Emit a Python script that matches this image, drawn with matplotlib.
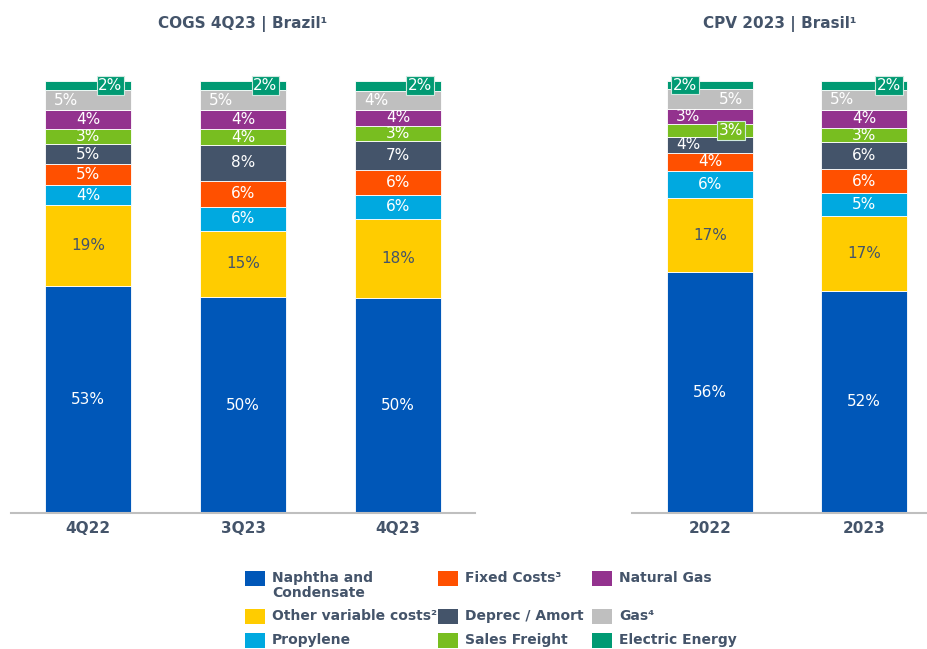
import numpy as np
import matplotlib
matplotlib.use("Agg")
import matplotlib.pyplot as plt
from matplotlib.patches import Rectangle

# ── Data ───────────────────────────────────────────────────────────
series = ["Naphtha and\nCondensate", "Other variable costs²", "Propylene",
          "Fixed Costs³", "Deprec / Amort", "Sales Freight",
          "Natural Gas", "Gas⁴", "Electric Energy"]
colors = ["#0057B8", "#FFCC00", "#00A9E0", "#FF5000", "#44546A",
          "#78BE20", "#93328E", "#BFBFBF", "#009A73"]

quarters = ["4Q22", "3Q23", "4Q23"]
years = ["2022", "2023"]

# share of COGS per segment, bottom to top (as drawn)
q_values = [
    [52.5, 18.8, 4.6, 4.9, 4.6, 3.4, 4.4, 4.7, 2.1],   # 4Q22
    [50.0, 15.3, 5.6, 6.0, 8.3, 3.6, 4.4, 4.7, 2.1],   # 3Q23
    [49.8, 18.3, 5.6, 5.8, 6.6, 3.4, 3.9, 4.4, 2.2],   # 4Q23
]
q_labels = [
    [53, 19, 4, 5, 5, 3, 4, 5, 2],
    [50, 15, 6, 6, 8, 4, 4, 5, 2],
    [50, 18, 6, 6, 7, 3, 4, 4, 2],
]
y_values = [
    [55.8, 17.1, 6.3, 4.2, 3.7, 3.0, 3.4, 4.6, 1.9],   # 2022
    [51.5, 17.2, 5.3, 5.6, 6.2, 3.4, 4.2, 4.6, 2.0],   # 2023
]
y_labels = [
    [56, 17, 6, 4, 4, 3, 3, 5, 2],
    [52, 17, 5, 6, 6, 3, 4, 5, 2],
]

TXT = "#44546A"
plt.rcParams["font.family"] = "DejaVu Sans"

W, H = 928, 649
fig = plt.figure(figsize=(W / 100, H / 100), dpi=100)


def px_axes(x0, x1, y0, y1):
    return fig.add_axes([x0 / W, 1 - y1 / H, (x1 - x0) / W, (y1 - y0) / H])


def draw_panel(ax, cats, values, labels, title, xlim, width, offsets):
    x = np.arange(len(cats))
    for i in range(len(cats)):
        bottom = 0
        for j, v in enumerate(values[i]):
            ax.bar(x[i], v, width, bottom=bottom, color=colors[j],
                   edgecolor="white", linewidth=0.6)
            dx, boxed = offsets.get((i, j), (0, False))
            tc = TXT if j == 1 else "white"
            bbox = None
            if boxed:
                bbox = dict(boxstyle="square,pad=0.12", fc=colors[j],
                            ec="#CFE8DF", lw=0.8)
            ax.text(x[i] + dx, bottom + v / 2, f"{labels[i][j]}%",
                    ha="center", va="center", color=tc, fontsize=11,
                    bbox=bbox, zorder=5, clip_on=False)
            bottom += v
    ax.set_xlim(*xlim)
    ax.set_ylim(0, 100)
    ax.set_xticks(x)
    ax.set_xticklabels(cats, fontsize=11, fontweight="bold", color=TXT)
    ax.tick_params(axis="x", length=0, pad=6)
    ax.set_yticks([])
    for s in ["top", "right", "left"]:
        ax.spines[s].set_visible(False)
    ax.spines["bottom"].set_color("#BFBFBF")
    ax.spines["bottom"].set_linewidth(1.5)
    ax.set_title(title, fontsize=11, fontweight="bold", color=TXT, pad=0,
                 y=(513 - 28) / 432)


# label placement tweaks: (bar, segment) -> (x offset, boxed)
left_off = {}
for i in range(3):
    left_off[(i, 8)] = (0.145, True)
    left_off[(i, 7)] = (-0.14, False)
right_off = {
    (0, 8): (-0.16, True), (0, 7): (0.14, False), (0, 6): (-0.14, False),
    (0, 5): (0.135, True), (0, 4): (-0.14, False),
    (1, 8): (0.16, True), (1, 7): (-0.14, False),
}

ax1 = px_axes(11, 475, 81, 513)
draw_panel(ax1, quarters, q_values, q_labels, "COGS 4Q23 | Brazil¹",
           (-0.497, 2.497), 0.555, left_off)

ax2 = px_axes(632, 928, 81, 513)
draw_panel(ax2, years, y_values, y_labels, "CPV 2023 | Brasil¹",
           (-0.506, 1.416), 0.558, right_off)

# ── Legend (drawn by hand, 3 columns) ──────────────────────────────
col_x = [245, 438, 592]
row_y = [579, 617, 641]
for k, name in enumerate(series):
    c, r = divmod(k, 3)
    x0, yc = col_x[c], row_y[r]
    fig.patches.append(Rectangle((x0 / W, 1 - (yc + 7) / H), 20 / W, 15 / H,
                                 transform=fig.transFigure, fc=colors[k],
                                 ec="none"))
    fig.text((x0 + 27) / W, 1 - (yc - 8) / H, name, ha="left", va="top",
             fontsize=10, fontweight="bold", color=TXT, linespacing=1.05)

fig.savefig("out.png", dpi=100)
